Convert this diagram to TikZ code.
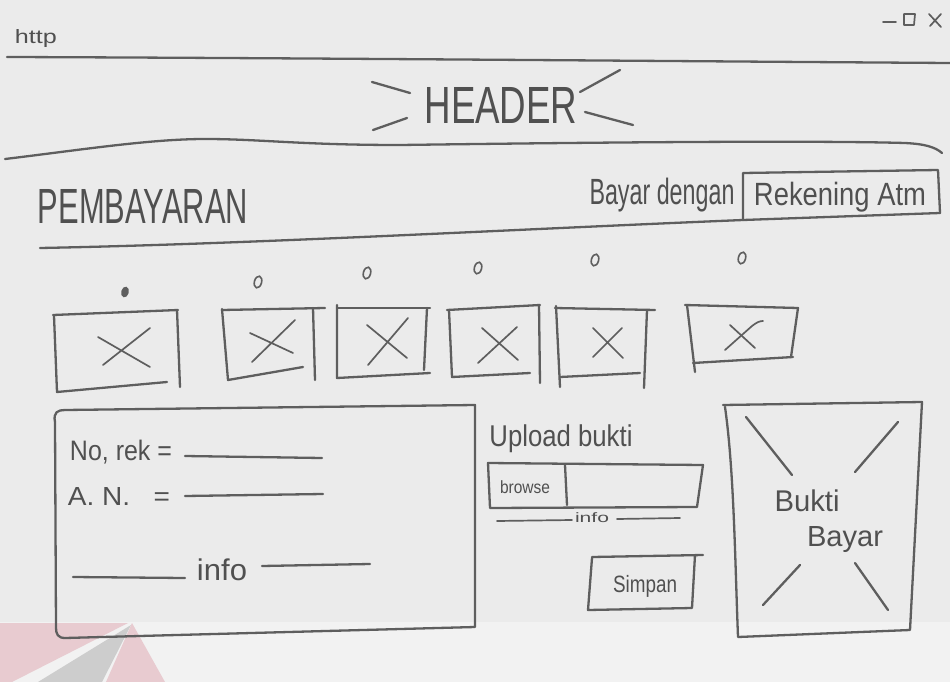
\documentclass[tikz,border=0pt]{standalone}
\usepackage{fontspec}
\setmainfont{Liberation Sans}
\usepackage{graphicx}
\definecolor{paper}{HTML}{EBEBEB}
\definecolor{paperlow}{HTML}{F2F2F2}
\definecolor{ink}{HTML}{5E5E5E}
\definecolor{inktext}{HTML}{505050}
\definecolor{markpink}{HTML}{E8CBD0}
\definecolor{markgray}{HTML}{CDCDCD}
% scale a piece of text to a given width and total height (in pt)
\newcommand{\fitto}[3]{\resizebox*{#1pt}{#2pt}{#3}}
\begin{document}
\begin{tikzpicture}[x=1pt,y=-1pt,
  pen/.style={draw=ink,line width=2.3pt,line cap=round,line join=round},
  finepen/.style={pen,line width=1.7pt},
  lbl/.style={inner sep=0pt,text=inktext}]
\useasboundingbox (0,0) rectangle (950,682);
\fill[paper] (0,0) rectangle (950,682);
\fill[paperlow] (0,622) rectangle (950,682);

% faint logo in the lower left corner
\fill[markpink] (0,623) -- (128,623) -- (12,682) -- (0,682) -- cycle;
\fill[markgray] (131,625) -- (38,682) -- (102,682) -- cycle;
\fill[markpink] (132,623) -- (106,682) -- (165,682) -- cycle;

% ---------- window bar ----------
\node[lbl] (url) at (36,39) {\fitto{42}{18}{http}};
\draw[finepen] (883,22) -- (896,22);
\draw[finepen] (904,14) -- (904,25) -- (914,25) -- (915,14) -- cycle;
\draw[finepen] (929,14) -- (941,27) (941,14) -- (930,26);
\draw[pen] (7,57) .. controls (300,58) and (650,61) .. (950,63);

% ---------- header ----------
\node[lbl] (header) at (501,105) {\fitto{153}{36}{HEADER}};
\draw[pen] (372,82) -- (410,93);
\draw[pen] (373,130) -- (407,118);
\draw[pen] (580,92) -- (620,70);
\draw[pen] (585,112) -- (633,125);
\draw[pen] (5,159) .. controls (80,150) and (150,139) .. (205,139)
  .. controls (260,139) and (300,145) .. (400,145)
  .. controls (550,143) and (800,140) .. (905,143)
  .. controls (925,144) and (935,147) .. (942,153);

% ---------- page title ----------
\node[lbl] (title) at (143,206) {\fitto{210}{34}{PEMBAYARAN}};
\node[lbl] (payby) at (662,195) {\fitto{145}{34}{Bayar dengan}};
\node[lbl] (method) at (840,197) {\fitto{172}{30}{Rekening Atm}};
\draw[pen] (743,220) -- (743,173) -- (938,170) -- (940,213);
\draw[pen] (40,248) .. controls (250,244) and (500,230) .. (743,220) -- (940,213);

% ---------- thumbnail row ----------
\fill[ink, rotate around={-15:(125,292)}] (125,292) ellipse (3.8pt and 5.5pt);
\foreach \px/\py in {258/282,367/273,478/268,595/260,742/258}
  \draw[ink,line width=1.6pt,rotate around={-15:(\px,\py)}] (\px,\py) ellipse (3.6pt and 6pt);

% box 1
\draw[pen] (53,315) -- (178,310);
\draw[pen] (54,316) -- (57,392) -- (167,382);
\draw[pen] (177,310) -- (180,387);
\draw[finepen] (98,337) -- (150,367) (103,365) -- (150,328);
% box 2
\draw[pen] (222,310) -- (325,308);
\draw[pen] (222,309) -- (228,380) -- (303,367);
\draw[pen] (313,308) -- (315,380);
\draw[finepen] (250,333) -- (293,353) (252,362) -- (295,320);
% box 3
\draw[pen] (337,305) -- (337,378) -- (430,373);
\draw[pen] (337,308) -- (430,308);
\draw[pen] (427,308) -- (424,370);
\draw[finepen] (367,325) -- (407,358) (368,365) -- (408,318);
% box 4
\draw[pen] (447,310) -- (540,305);
\draw[pen] (449,310) -- (452,377) -- (530,373);
\draw[pen] (539,305) -- (540,383);
\draw[finepen] (478,363) -- (517,327) (482,328) -- (518,360);
% box 5
\draw[pen] (555,308) -- (655,310);
\draw[pen] (556,306) -- (560,387);
\draw[pen] (560,377) -- (640,373);
\draw[pen] (647,310) -- (644,388);
\draw[finepen] (593,357) -- (622,328) (593,328) -- (623,358);
% box 6
\draw[pen] (685,305) -- (798,308) -- (791,357);
\draw[pen] (687,305) -- (695,372);
\draw[pen] (693,363) -- (793,357);
\draw[finepen] (725,350) -- (752,326) .. controls (757,322) and (760,321) .. (763,321);
\draw[finepen] (730,325) -- (755,348);

% ---------- account details panel ----------
\draw[pen] (55,422) .. controls (53,412) and (58,410) .. (65,410)
  -- (475,405) -- (475,627) -- (65,638) .. controls (58,638) and (56,634) .. (56,628) -- cycle;
\node[lbl] (accno) at (121,452) {\fitto{102}{24}{No, rek =}};
\draw[pen] (185,456) -- (322,458);
\node[lbl] (accname) at (119,496) {\fitto{102}{18}{A. N.\ \ \ =}};
\draw[pen] (185,496) -- (323,494);
\draw[pen] (73,577) -- (185,578);
\node[lbl] (accinfo) at (222,570) {\fitto{50}{22}{info}};
\draw[pen] (262,566) -- (370,564);

% ---------- upload area ----------
\node[lbl] (upload) at (561,439) {\fitto{143}{28}{Upload bukti}};
\draw[pen] (488,463) -- (703,465) -- (697,507) -- (490,508) -- cycle;
\draw[pen] (565,465) -- (567,505);
\node[lbl] (browse) at (525,487) {\fitto{50}{13}{browse}};
\draw[finepen] (497,521) -- (572,520);
\node[lbl] (upinfo) at (592,518) {\fitto{34}{10}{info}};
\draw[finepen] (617,519) -- (680,518);
\draw[pen] (592,557) -- (703,555) (695,555) -- (692,608) -- (588,610) -- (592,558);
\node[lbl] (save) at (645,586) {\fitto{64}{22}{Simpan}};

% ---------- payment proof preview ----------
\draw[pen] (723,405) -- (922,402) -- (910,630) -- (738,637)
  .. controls (735,560) and (734,470) .. (725,407);
\draw[pen] (746,417) -- (792,475);
\draw[pen] (898,422) -- (855,472);
\draw[pen] (800,565) -- (763,605);
\draw[pen] (855,563) -- (888,610);
\node[lbl] (proof1) at (807,501) {\fitto{65}{22}{Bukti}};
\node[lbl] (proof2) at (845,540) {\fitto{76}{26}{Bayar}};
\end{tikzpicture}
\end{document}
